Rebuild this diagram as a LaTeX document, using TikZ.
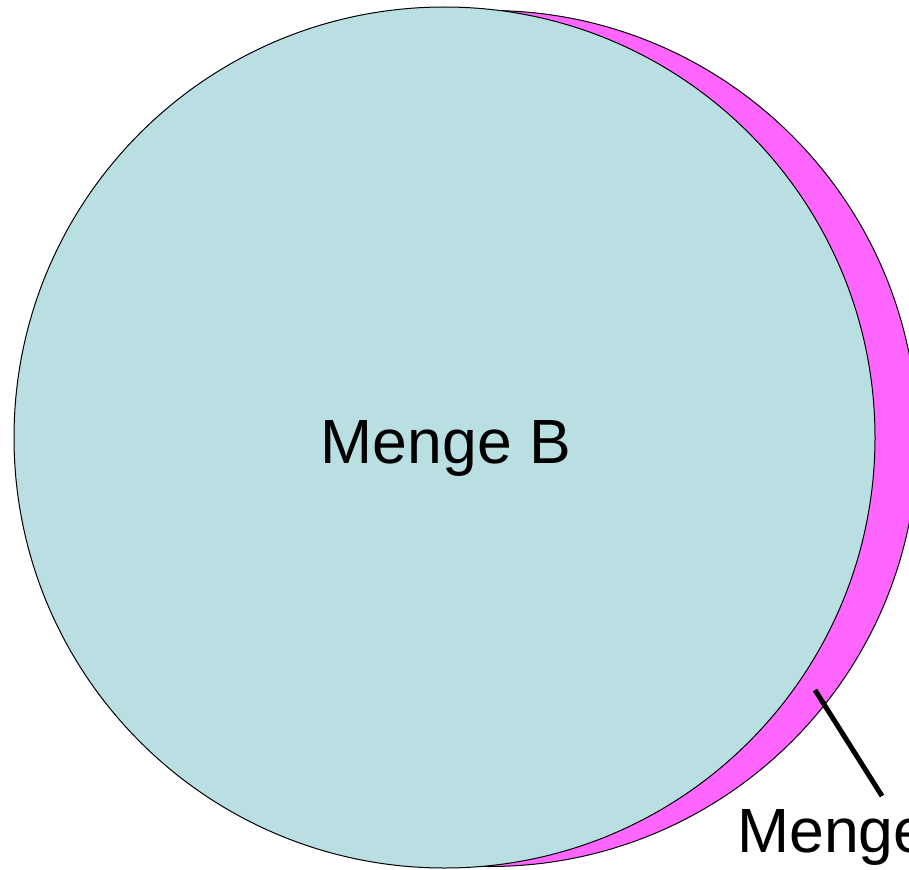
\documentclass[tikz,border=0pt]{standalone}
\usepackage{fontspec}
\setmainfont{Liberation Sans}
\definecolor{setA}{HTML}{FF66FF}
\definecolor{setB}{HTML}{B9DFE3}
\begin{document}
\begin{tikzpicture}[x=1pt,y=-1pt,
  setcircle/.style={circle, draw=black, line width=1pt, inner sep=0pt},
  biglabel/.style={inner sep=0pt, font=\fontsize{62.5}{75}\selectfont}]
\useasboundingbox (0,0) rectangle (909,869);
\clip (0,0) rectangle (909,869);
\node[setcircle, fill=setA, minimum size=856pt] (A) at (489.5,438.5) {};
\node[setcircle, fill=setB, minimum size=861pt] (B) at (444.5,437.5) {};
\node[biglabel, anchor=base] (Blabel) at (446,463) {Menge B};
\node[biglabel, anchor=base west] (Alabel) at (737,852) {Menge};
\coordinate (lead1) at (815,690);
\coordinate (lead2) at (882,796);
\draw[line width=5pt] (lead1) -- (lead2);
\end{tikzpicture}
\end{document}
